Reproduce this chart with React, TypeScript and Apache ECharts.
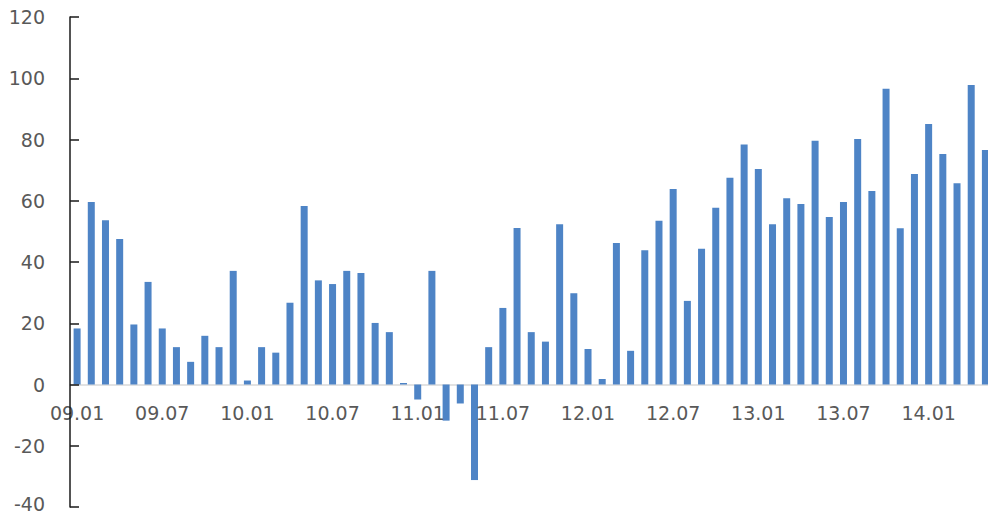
import React, { useEffect, useRef } from "react";
import * as echarts from "echarts";

// Month labels, Jan 2009 – May 2014
const months: string[] = [
  "09.01", "09.02", "09.03", "09.04", "09.05", "09.06", "09.07", "09.08", "09.09", "09.10", "09.11", "09.12",
  "10.01", "10.02", "10.03", "10.04", "10.05", "10.06", "10.07", "10.08", "10.09", "10.10", "10.11", "10.12",
  "11.01", "11.02", "11.03", "11.04", "11.05", "11.06", "11.07", "11.08", "11.09", "11.10", "11.11", "11.12",
  "12.01", "12.02", "12.03", "12.04", "12.05", "12.06", "12.07", "12.08", "12.09", "12.10", "12.11", "12.12",
  "13.01", "13.02", "13.03", "13.04", "13.05", "13.06", "13.07", "13.08", "13.09", "13.10", "13.11", "13.12",
  "14.01", "14.02", "14.03", "14.04", "14.05",
];

// Monthly values by year
const values2009: number[] = [18.3, 59.6, 53.6, 47.5, 19.6, 33.5, 18.3, 12.2, 7.4, 15.9, 12.2, 37.1];
const values2010: number[] = [1.3, 12.2, 10.4, 26.7, 58.3, 34.0, 32.8, 37.1, 36.4, 20.1, 17.1, 0.5];
const values2011: number[] = [-4.9, 37.1, -11.8, -6.2, -31.2, 12.2, 25.0, 51.1, 17.1, 14.0, 52.3, 29.8];
const values2012: number[] = [11.6, 1.8, 46.2, 11.0, 43.8, 53.5, 63.8, 27.3, 44.3, 57.7, 67.5, 78.4];
const values2013: number[] = [70.4, 52.3, 60.8, 58.9, 79.6, 54.7, 59.6, 80.2, 63.2, 96.6, 51.0, 68.7];
const values2014: number[] = [85.1, 75.3, 65.7, 97.8, 76.6];

const values: number[] = [
  ...values2009, ...values2010, ...values2011, ...values2012, ...values2013, ...values2014,
];

const yMin = -40;
const yMax = 120;
const yStep = 20;

const FONT = "DejaVu Sans";
const TEXT = "#595959";

const GRID_TOP = 17;
const GRID_HEIGHT = 490;
// lift the category axis from the grid's bottom edge up to the value 0
const zeroLift = (GRID_HEIGHT * (0 - yMin)) / (yMax - yMin);

export default function App() {
  const ref = useRef<HTMLDivElement>(null);

  useEffect(() => {
    if (!ref.current) return;
    const chart = echarts.init(ref.current, undefined, { renderer: "svg" });
    chart.setOption({
      animation: false,
      backgroundColor: "#ffffff",
      grid: {
        left: 70,
        top: GRID_TOP,
        width: 922.5,
        height: GRID_HEIGHT,
        containLabel: false,
        outerBoundsMode: "none",
      },
      xAxis: {
        type: "category",
        data: months,
        position: "bottom",
        offset: -zeroLift,
        z: 2,
        axisLine: { show: true, onZero: false, lineStyle: { color: "#d9d9d9", width: 1.5 } },
        axisTick: { show: false },
        axisLabel: {
          interval: 5,
          margin: 19,
          color: TEXT,
          fontFamily: FONT,
          fontSize: 19,
        },
        splitLine: { show: false },
      },
      yAxis: {
        type: "value",
        min: yMin,
        max: yMax,
        interval: yStep,
        z: 5,
        axisLine: { show: true, lineStyle: { color: "#1a1a1a", width: 1.5 } },
        axisTick: { show: true, inside: true, length: 9, lineStyle: { color: "#1a1a1a", width: 1.5 } },
        axisLabel: {
          margin: 25,
          color: TEXT,
          fontFamily: FONT,
          fontSize: 19,
          lineHeight: 14,
          // the lowest label sits against the bottom edge; nudge it up a little
          formatter: (v: number) => (v === yMin ? `{edge|${v}}` : `${v}`),
          rich: {
            edge: {
              color: TEXT,
              fontFamily: FONT,
              fontSize: 19,
              lineHeight: 14,
              padding: [0, 0, 6, 0],
            },
          },
        },
        splitLine: { show: false },
      },
      series: [
        {
          type: "bar",
          data: values,
          barWidth: 7,
          itemStyle: { color: "#4e84c6" },
        },
      ],
    });
    return () => chart.dispose();
  }, []);

  return (
    <div
      ref={ref}
      style={{ position: "fixed", left: 0, top: 0, width: 1000, height: 514 }}
    />
  );
}
